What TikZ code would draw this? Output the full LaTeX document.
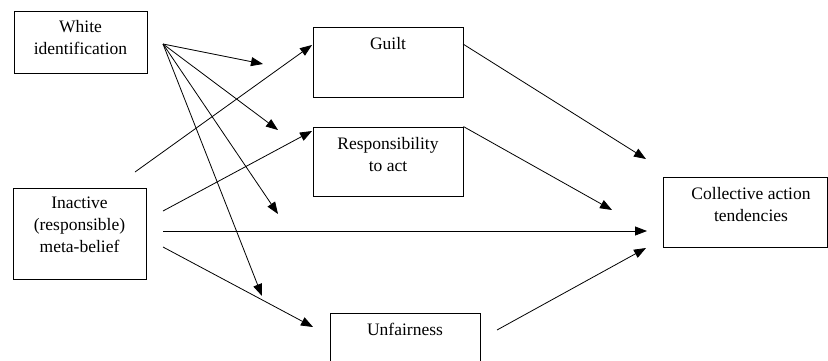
\documentclass[tikz,border=0pt]{standalone}
\usepackage{fontspec}
\setmainfont{Liberation Serif}
\usetikzlibrary{arrows.meta}
\begin{document}
\begin{tikzpicture}[x=1pt,y=-1pt]
	\tikzstyle{every node}=[font=\fontsize{17.5pt}{22pt}\selectfont]
	\tikzstyle{box}=[draw, line width=0.9pt, inner sep=0pt]
	\tikzstyle{txt}=[anchor=north, align=center, inner sep=0pt]
	\tikzstyle{arr}=[line width=0.8pt, -{Triangle[length=12pt,width=9pt]}]
	
	\clip (0,0) rectangle (828,360);
	
	% boxes
	\node [box, minimum width=133pt, minimum height=62pt] (white) at (80.5,42) {};
	\node [box, minimum width=150pt, minimum height=70pt] (guilt) at (388,62) {};
	\node [box, minimum width=150pt, minimum height=69pt] (resp) at (388,161.5) {};
	\node [box, minimum width=133pt, minimum height=91pt] (inactive) at (79.5,233.5) {};
	\node [box, minimum width=164pt, minimum height=70pt] (collective) at (745,212) {};
	\node [box, minimum width=150pt, minimum height=60pt] (unfair) at (405,343) {};
	
	\node [txt] (whitetxt) at (80.5,20) {White\\identification};
	\node [txt] (guilttxt) at (388,37) {Guilt};
	\node [txt] (resptxt) at (388,137) {Responsibility\\to act};
	\node [txt] (inacttxt) at (79.5,197) {Inactive\\(responsible)\\meta-belief};
	\node [txt] (colltxt) at (751,187) {Collective action\\tendencies};
	\node [txt] (unfairtxt) at (405,323) {Unfairness};
	
	% arrow ends
	\coordinate (wiout) at (163,44);
	\coordinate (wia) at (263,64);
	\coordinate (wib) at (278,130);
	\coordinate (wic) at (278,214);
	\coordinate (wid) at (262,296);
	
	\coordinate (iaa) at (135,172);
	\coordinate (iab) at (163,211);
	\coordinate (iac) at (163,231);
	\coordinate (iad) at (163,247);
	\coordinate (guiltin) at (312,45);
	\coordinate (respin) at (312,131);
	\coordinate (unfairin) at (313,327);
	
	\coordinate (guiltout) at (463,44);
	\coordinate (unfairout) at (497,330);
	\coordinate (colla) at (646,159);
	\coordinate (collb) at (612,210);
	\coordinate (collc) at (647,231);
	\coordinate (colld) at (646,248);
	
	\draw [arr] (wiout) -- (wia);
	\draw [arr] (wiout) -- (wib);
	\draw [arr] (wiout) -- (wic);
	\draw [arr] (wiout) -- (wid);
	
	\draw [arr] (iaa) -- (guiltin);
	\draw [arr] (iab) -- (respin);
	\draw [arr] (iac) -- (collc);
	\draw [arr] (iad) -- (unfairin);
	
	\draw [arr] (guiltout) -- (colla);
	\draw [arr] (resp.north east) -- (collb);
	\draw [arr] (unfairout) -- (colld);
	
\end{tikzpicture}
\end{document}
